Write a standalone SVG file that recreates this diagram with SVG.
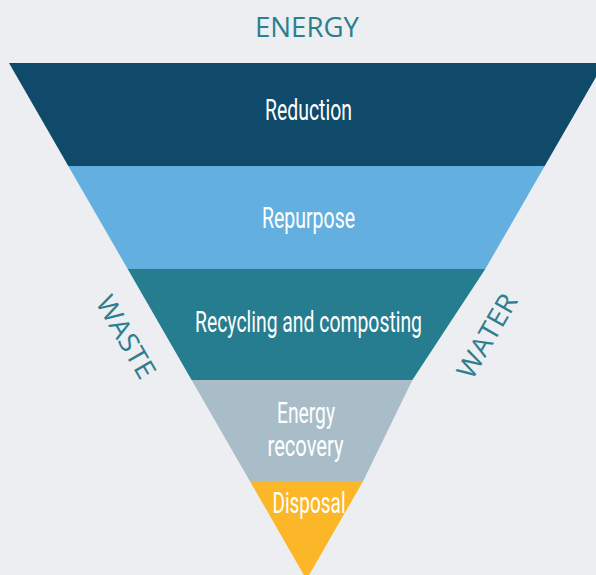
<svg xmlns="http://www.w3.org/2000/svg" width="596" height="575" viewBox="0 0 596 575">
<style>
.lbl{font-family:Roboto,"DejaVu Sans Condensed","Liberation Sans",sans-serif;font-size:29px;fill:#ffffff;text-anchor:middle}
.side{font-family:"Open Sans","Liberation Sans",sans-serif;font-size:27px;fill:#2b7f8f;text-anchor:middle;font-weight:400}
</style>
<rect x="0" y="0" width="596" height="575" fill="#eceef2"/>
<g id="energy-label"><text class="side" x="307" y="36.5" textLength="104" lengthAdjust="spacingAndGlyphs">ENERGY</text></g>
<g id="reduction">
<polygon points="9,63 604,63 544.7,166 68.3,166" fill="#0f4a6b"/>
<text class="lbl" x="308.5" y="119.5" textLength="87" lengthAdjust="spacingAndGlyphs">Reduction</text>
</g>
<g id="repurpose">
<polygon points="68.3,166 544.7,166 485.3,269 127.7,269" fill="#63afe0"/>
<text class="lbl" x="308.5" y="228" textLength="93" lengthAdjust="spacingAndGlyphs">Repurpose</text>
</g>
<g id="recycling">
<polygon points="127.7,269 485.3,269 412.4,380 191.6,380" fill="#267d8f"/>
<text class="lbl" x="308.5" y="331.5" textLength="227" lengthAdjust="spacingAndGlyphs">Recycling and composting</text>
</g>
<g id="energy-recovery">
<polygon points="191.6,380 412.4,380 363.2,481 249.8,481" fill="#a9bdc9"/>
<text class="lbl" x="306" y="423.3" textLength="58" lengthAdjust="spacingAndGlyphs">Energy</text>
<text class="lbl" x="305.5" y="456" textLength="76" lengthAdjust="spacingAndGlyphs">recovery</text>
</g>
<g id="disposal">
<polygon points="249.8,481 363.2,481 306.5,579.5" fill="#fbb727"/>
<text class="lbl" x="309" y="513.3" textLength="73" lengthAdjust="spacingAndGlyphs">Disposal</text>
</g>
<g id="waste-label"><text class="side" transform="translate(126,337) rotate(60)" x="0" y="9.5" textLength="91" lengthAdjust="spacingAndGlyphs">WASTE</text></g>
<g id="water-label"><text class="side" transform="translate(487,336) rotate(-60)" x="0" y="9.5" textLength="93" lengthAdjust="spacingAndGlyphs">WATER</text></g>
<g id="connectors"/>
</svg>
